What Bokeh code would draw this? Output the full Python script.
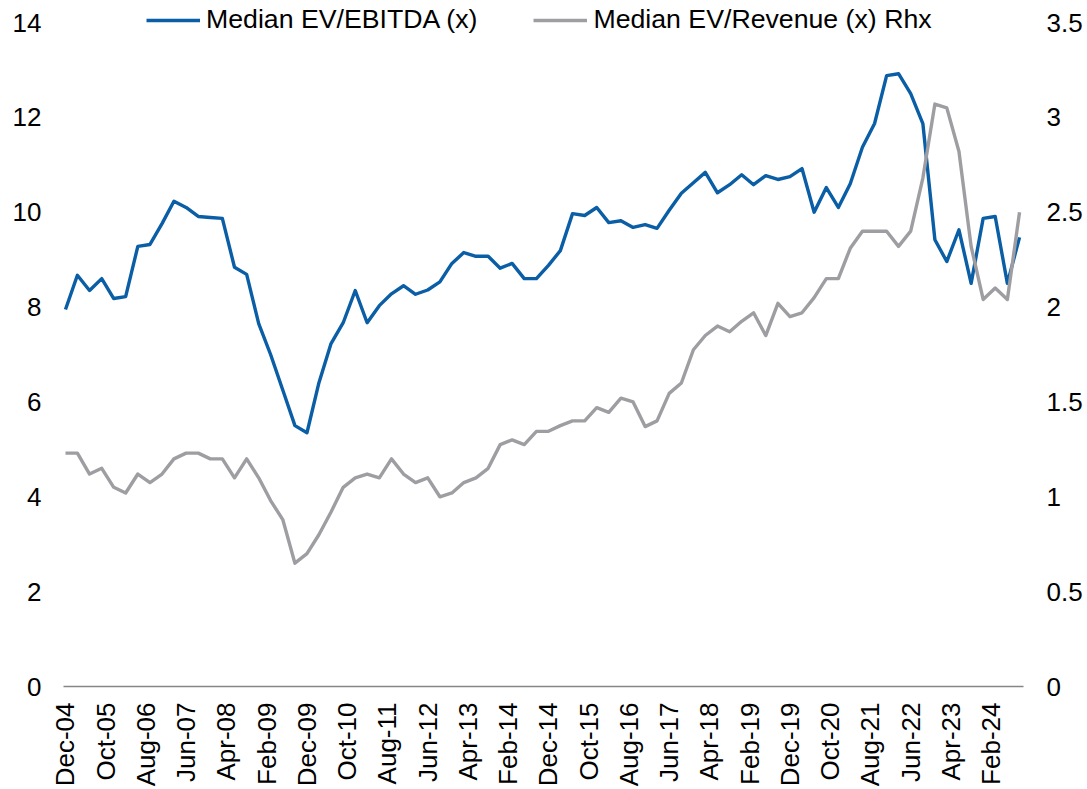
import math
import pandas as pd
from bokeh.plotting import figure
from bokeh.models import (Range1d, LinearAxis, FixedTicker, PrintfTickFormatter,
                          DatetimeTickFormatter, Legend, LegendItem)
from bokeh.embed import file_html
from bokeh.resources import INLINE

# ---------------- data ----------------
tick_labels = ["Dec-04", "Oct-05", "Aug-06", "Jun-07", "Apr-08", "Feb-09", "Dec-09", "Oct-10",
               "Aug-11", "Jun-12", "Apr-13", "Feb-14", "Dec-14", "Oct-15", "Aug-16", "Jun-17",
               "Apr-18", "Feb-19", "Dec-19", "Oct-20", "Aug-21", "Jun-22", "Apr-23", "Feb-24"]

# quarterly observations, Dec-04 .. Sep-24
dates = pd.date_range("2004-12-01", periods=80, freq="3MS")

ev_ebitda = [7.95, 8.67, 8.35, 8.6, 8.18, 8.22, 9.28, 9.32, 9.76, 10.23,
             10.1, 9.91, 9.89, 9.87, 8.84, 8.69, 7.65, 7.0, 6.25, 5.5,
             5.35, 6.4, 7.23, 7.67, 8.35, 7.67, 8.03, 8.28, 8.45, 8.27,
             8.36, 8.53, 8.92, 9.15, 9.07, 9.07, 8.82, 8.92, 8.6, 8.6,
             8.88, 9.19, 9.97, 9.93, 10.1, 9.78, 9.82, 9.68, 9.74, 9.66,
             10.04, 10.4, 10.62, 10.84, 10.41, 10.58, 10.79, 10.58, 10.77, 10.69,
             10.75, 10.92, 10.0, 10.52, 10.1, 10.6, 11.37, 11.87, 12.88, 12.92,
             12.5, 11.87, 9.42, 8.96, 9.63, 8.5, 9.87, 9.91, 8.5, 9.47]

ev_revenue = [1.23, 1.23, 1.12, 1.15, 1.05, 1.02, 1.12, 1.075, 1.12, 1.2,
              1.23, 1.23, 1.2, 1.2, 1.1, 1.2, 1.1, 0.98, 0.88, 0.65,
              0.7, 0.8, 0.92, 1.05, 1.1, 1.12, 1.1, 1.2, 1.12, 1.075,
              1.1, 1.0, 1.02, 1.075, 1.1, 1.15, 1.275, 1.3, 1.275, 1.345,
              1.345, 1.375, 1.4, 1.4, 1.47, 1.445, 1.52, 1.5, 1.37, 1.4,
              1.545, 1.6, 1.775, 1.85, 1.9, 1.87, 1.925, 1.97, 1.85, 2.02,
              1.95, 1.97, 2.05, 2.15, 2.15, 2.31, 2.4, 2.4, 2.4, 2.32,
              2.4, 2.68, 3.07, 3.05, 2.82, 2.32, 2.04, 2.1, 2.04, 2.5]

left_ticks = [0, 2, 4, 6, 8, 10, 12, 14]
right_ticks = [0, 0.5, 1, 1.5, 2, 2.5, 3, 3.5]

# ---------------- styling ----------------
FONT = "Liberation Sans"
BLUE = "#0A5EA6"
GRAY = "#9E9EA2"
TICK_SIZE = "26px"

x_start = pd.Timestamp("2004-11-16")
x_end = pd.Timestamp("2024-10-01")

# the frame reaches the canvas top so that the legend (above the 14 line) is not clipped
FRAME_H = 686
AXIS_H = 664          # height of the 0..14 span in pixels
top_pad = FRAME_H / AXIS_H

p = figure(width=1087, height=789, frame_width=960, frame_height=FRAME_H,
           x_axis_type="datetime", x_range=Range1d(x_start, x_end),
           y_range=Range1d(0, 14 * top_pad), output_backend="svg", toolbar_location=None,
           min_border_left=63, min_border_right=64, min_border_top=0, min_border_bottom=103)
p.extra_y_ranges = {"right": Range1d(0, 3.5 * top_pad)}
p.outline_line_color = None
p.xgrid.visible = False
p.ygrid.visible = False
p.background_fill_color = "white"
p.border_fill_color = "white"

r1 = p.line(dates, ev_ebitda, line_color=BLUE, line_width=3.4, line_join="round")
r2 = p.line(dates, ev_revenue, line_color=GRAY, line_width=3.4, line_join="round",
            y_range_name="right")

# x axis
xa = p.xaxis[0]
tick_dates = [pd.to_datetime(t, format="%b-%y") for t in tick_labels]
xa.ticker = FixedTicker(ticks=[d.value // 10**6 for d in tick_dates])
fmt = "%b-%y"
xa.formatter = DatetimeTickFormatter(milliseconds=fmt, seconds=fmt, minsec=fmt, minutes=fmt,
                                     hourmin=fmt, hours=fmt, days=fmt, months=fmt, years=fmt)
xa.major_label_orientation = math.pi / 2
xa.axis_line_color = "#868686"
xa.axis_line_width = 1.3
xa.major_tick_line_color = None
xa.minor_tick_line_color = None
xa.major_tick_out = 0
xa.major_tick_in = 0
xa.major_label_standoff = 16
xa.major_label_text_font = FONT
xa.major_label_text_font_size = TICK_SIZE
xa.major_label_text_color = "black"

# left axis
ya = p.yaxis[0]
ya.ticker = FixedTicker(ticks=left_ticks)
ya.axis_line_color = None
ya.major_tick_line_color = None
ya.minor_tick_line_color = None
ya.major_tick_out = 0
ya.major_tick_in = 0
ya.major_label_standoff = 22
ya.major_label_text_font = FONT
ya.major_label_text_font_size = TICK_SIZE
ya.major_label_text_color = "black"

# right axis
ra = LinearAxis(y_range_name="right", ticker=FixedTicker(ticks=right_ticks),
                formatter=PrintfTickFormatter(format="%g"))
ra.axis_line_color = None
ra.major_tick_line_color = None
ra.minor_tick_line_color = None
ra.major_tick_out = 0
ra.major_tick_in = 0
ra.major_label_standoff = 23
ra.major_label_text_font = FONT
ra.major_label_text_font_size = TICK_SIZE
ra.major_label_text_color = "black"
p.add_layout(ra, "right")

legend = Legend(items=[LegendItem(label="Median EV/EBITDA (x)", renderers=[r1]),
                       LegendItem(label="Median EV/Revenue (x) Rhx", renderers=[r2])],
                orientation="horizontal", location=(83, 651),
                glyph_width=54, glyph_height=28, label_standoff=6, spacing=56,
                padding=0, margin=0, border_line_color=None, background_fill_alpha=0,
                label_text_font=FONT, label_text_font_size="26.7px", label_text_color="black",
                label_height=28)
p.add_layout(legend, "center")

open("out.html", "w").write(file_html(p, INLINE))
